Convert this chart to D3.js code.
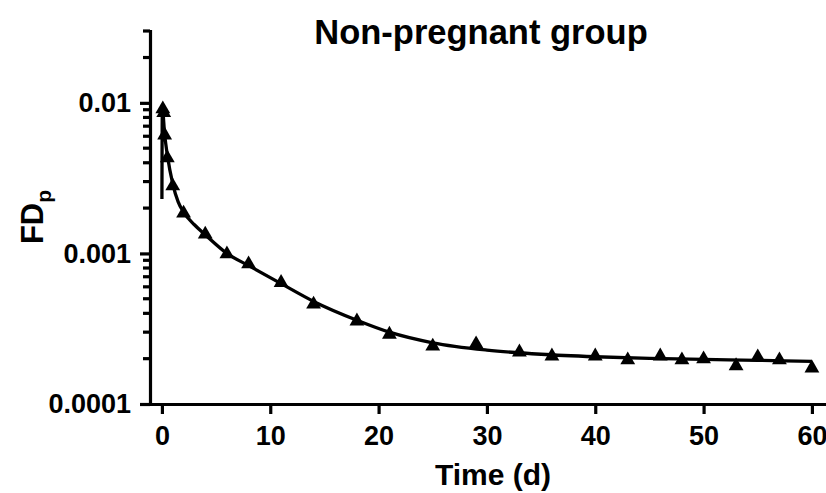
<!DOCTYPE html>
<html>
<head>
<meta charset="utf-8">
<script src="https://cdnjs.cloudflare.com/ajax/libs/d3/7.8.5/d3.min.js"></script>
<style>
  html, body { margin: 0; padding: 0; background: #fff; }
  svg { display: block; font-family: Arial, "Liberation Sans", sans-serif; }
  .axis path, .axis line { stroke: #000; stroke-width: 3.2; }
  .axis text { font-size: 27px; font-weight: bold; fill: #000; }
</style>
</head>
<body>
<div class="graph"></div>
<script>
// observed FDp (triangles)
const obsTime = [0.083, 0.167, 0.25, 0.5, 1, 2, 4, 6, 8, 11, 14, 18, 21, 25, 29, 33, 36, 40, 43, 46, 48, 50, 53, 55, 57, 60];
const obsFD = [0.0091, 0.0086, 0.0061, 0.0043, 0.0028, 0.00185, 0.00134, 0.00099, 0.00085, 0.00064, 0.00046, 0.000355,
  0.00029, 0.000242, 0.00025, 0.000221, 0.000208, 0.000208, 0.000196, 0.000208, 0.000196, 0.000199, 0.000179,
  0.000205, 0.000196, 0.000173];

// fitted curve
const fitTime = [0, 0.04, 0.25, 0.5, 1, 1.5, 2, 3, 4, 6, 8, 11, 14, 18, 21, 25, 30, 35, 40, 45, 50, 55, 60];
const fitFD = [0.0023, 0.0092, 0.0062, 0.0045, 0.0029, 0.0022, 0.00188, 0.00155, 0.00133, 0.001, 0.00083, 0.00063,
  0.00048, 0.00036, 0.0003, 0.000255, 0.000228, 0.000214, 0.000206, 0.000201, 0.000198, 0.000195, 0.000192];

const xTicks = [0, 10, 20, 30, 40, 50, 60];
const yTicks = [0.0001, 0.001, 0.01];
const yTickLabels = ['0.0001', '0.001', '0.01'];
const yMinorTicks = [0.0002, 0.0003, 0.0004, 0.0005, 0.0006, 0.0007, 0.0008, 0.0009,
  0.002, 0.003, 0.004, 0.005, 0.006, 0.007, 0.008, 0.009, 0.02, 0.03];

const width = 826, height = 493;

let svg = d3.select('.graph').append('svg')
  .attr('width', width)
  .attr('height', height);

let x = d3.scaleLinear().domain([-1.1, 61.3]).range([150, 826]);
let y = d3.scaleLog().domain([0.0001, 0.03]).range([404, 31]);

// y axis (log) with minor ticks
let yAxis = svg.append('g')
  .attr('class', 'axis')
  .attr('transform', 'translate(150,0)')
  .call(d3.axisLeft(y).tickValues(yTicks).tickSize(10).tickPadding(9).tickSizeOuter(0)
    .tickFormat(function(d, i) { return yTickLabels[i]; }));

yAxis.selectAll('.minor')
  .data(yMinorTicks)
  .enter().append('line')
  .attr('class', 'minor')
  .attr('x1', -7).attr('x2', 0)
  .attr('y1', function(d) { return y(d); })
  .attr('y2', function(d) { return y(d); });

yAxis.select('.domain').attr('stroke-linecap', 'square');

// x axis
let xAxis = svg.append('g')
  .attr('class', 'axis')
  .attr('transform', 'translate(0,404)')
  .call(d3.axisBottom(x).tickValues(xTicks).tickSize(10).tickPadding(12).tickSizeOuter(0));

xAxis.select('.domain').attr('stroke-linecap', 'square');

// fitted line
let line = d3.line()
  .x(function(d, i) { return x(fitTime[i]); })
  .y(function(d) { return y(d); })
  .curve(d3.curveMonotoneX);

svg.append('path')
  .datum(fitFD)
  .attr('d', line)
  .attr('fill', 'none')
  .attr('stroke', '#000')
  .attr('stroke-width', 3.3);

// observed points
let tri = d3.symbol().type(d3.symbolTriangle).size(95);

svg.append('g').selectAll('path')
  .data(obsFD)
  .enter().append('path')
  .attr('d', tri)
  .attr('transform', function(d, i) {
    return 'translate(' + x(obsTime[i]) + ',' + y(d) + ')';
  })
  .attr('fill', '#000');

// titles
svg.append('text')
  .attr('x', 481)
  .attr('y', 44)
  .attr('text-anchor', 'middle')
  .style('font-size', '34.5px')
  .style('font-weight', 'bold')
  .text('Non-pregnant group');

svg.append('text')
  .attr('x', 493)
  .attr('y', 485)
  .attr('text-anchor', 'middle')
  .style('font-size', '30px')
  .style('font-weight', 'bold')
  .text('Time (d)');

let yLabel = svg.append('text')
  .attr('transform', 'translate(43,217) rotate(-90)')
  .attr('text-anchor', 'middle')
  .style('font-size', '31px')
  .style('font-weight', 'bold');

yLabel.append('tspan').text('FD');
yLabel.append('tspan')
  .attr('dy', 8)
  .style('font-size', '21px')
  .text('p');
</script>
</body>
</html>
